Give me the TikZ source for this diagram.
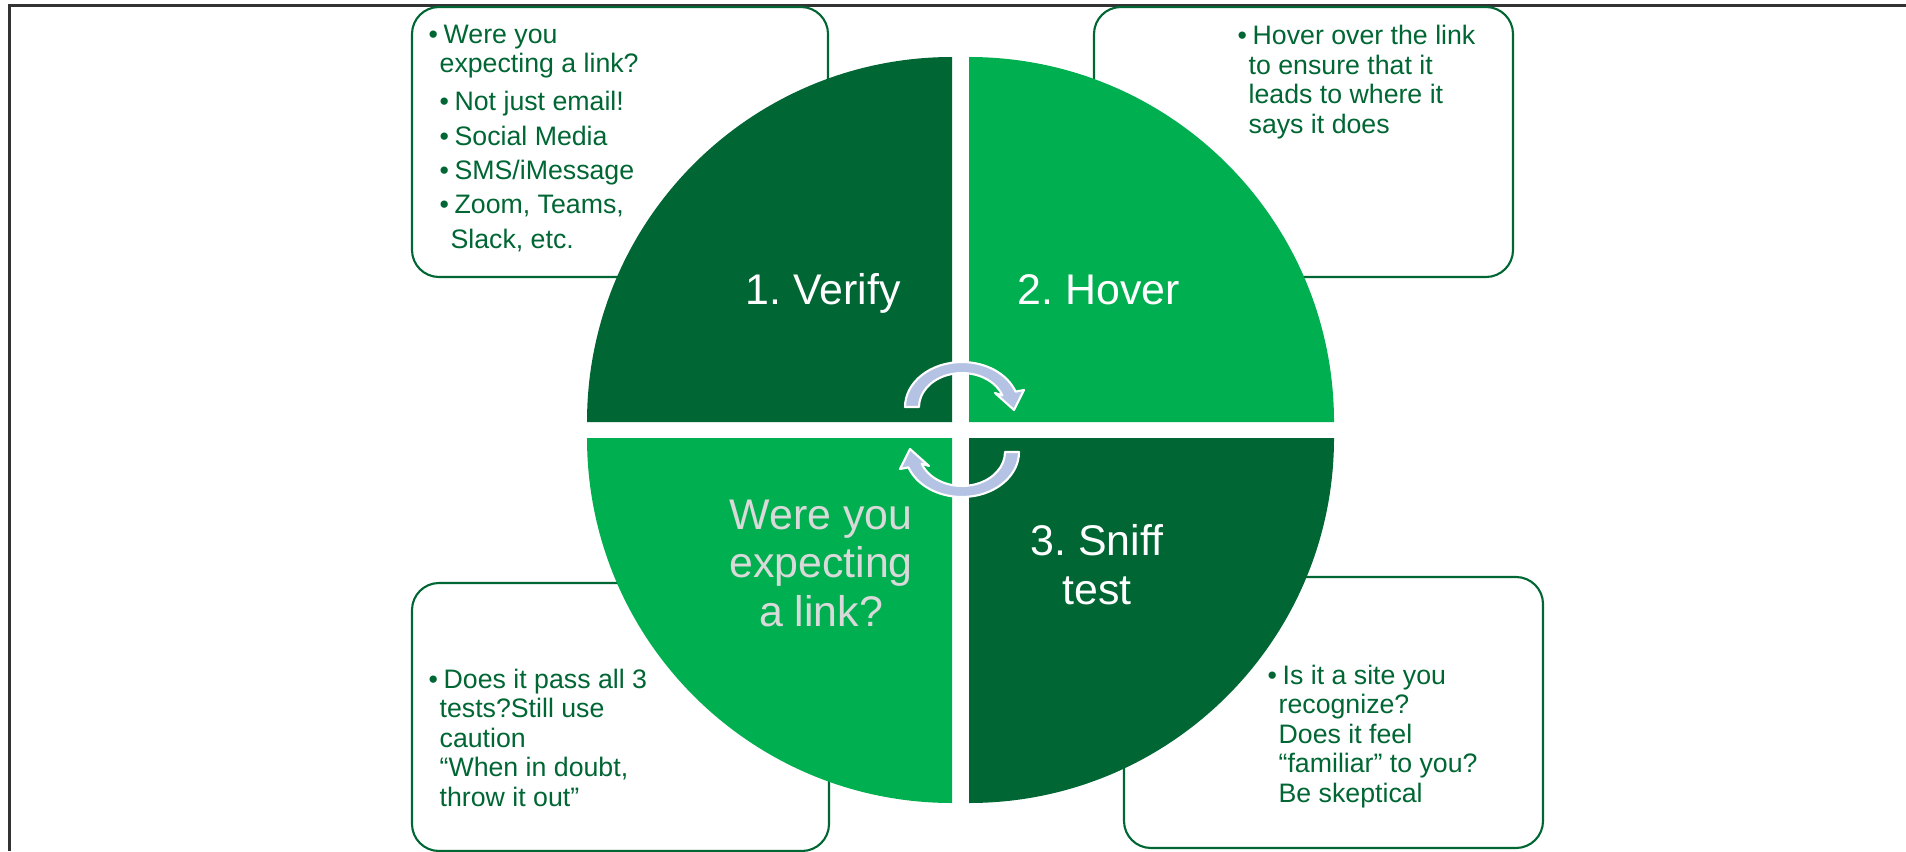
\documentclass[tikz,border=0pt]{standalone}
\usepackage{fontspec}
\setmainfont{Liberation Sans}
\frenchspacing
\definecolor{darkgrn}{RGB}{0,102,51}
\definecolor{litegrn}{RGB}{0,176,80}
\definecolor{cyclblue}{RGB}{180,194,228}
\definecolor{framegray}{RGB}{51,51,51}
\definecolor{palegray}{RGB}{217,217,217}
\newcommand{\bul}{\makebox[0.56em][l]{•}}
\newcommand{\ind}{\hspace*{0.41em}}

\begin{document}
\begin{tikzpicture}[
        infobox/.style={draw=darkgrn,fill=white,line width=0.6pt,rounded corners=0.27cm},
        boxtext/.style={font=\fontsize{7.6}{8.4}\selectfont,text=darkgrn,align=left,anchor=north west,inner sep=0pt},
        quadlabel/.style={font=\fontsize{12.2}{13.8}\selectfont,text=white,align=center,inner sep=0pt},
        cycarrow/.style={fill=cyclblue,draw=white,line width=0.6pt,line join=round}
    ]
        \useasboundingbox (0,0) rectangle (19.06,8.51);

        % 边框:只有上边和左边
        \draw[framegray,line width=0.6pt] (0.095,0) -- (0.095,8.455) -- (19.06,8.455);

        % 四个说明框
        \draw[infobox] (4.12,5.74) rectangle (8.28,8.44);
        \draw[infobox] (10.94,5.74) rectangle (15.13,8.44);
        \draw[infobox] (4.12,0.00) rectangle (8.29,2.68);
        \draw[infobox] (11.24,0.03) rectangle (15.43,2.74);

        \node[boxtext] (verifytxt) at (4.28,8.27) {%
            \bul Were you\\
            \ind expecting a link?\\[2.4pt]
            \ind\bul Not just email!\\[1.4pt]
            \ind\bul Social Media\\[1.4pt]
            \ind\bul SMS/iMessage\\[1.4pt]
            \ind\bul Zoom, Teams,\\[1.4pt]
            \hspace*{0.82em}Slack, etc.};
        \node[boxtext] (hovertxt) at (12.37,8.265) {%
            \bul Hover over the link\\
            \ind to ensure that it\\
            \ind leads to where it\\
            \ind says it does};
        \node[boxtext] (passtxt) at (4.28,1.83) {%
            \bul Does it pass all 3\\
            \ind tests?Still use\\
            \ind caution\\
            \ind “When in doubt,\\
            \ind throw it out”};
        \node[boxtext] (snifftxt) at (12.67,1.87) {%
            \bul Is it a site you\\
            \ind recognize?\\
            \ind Does it feel\\
            \ind “familiar” to you?\\
            \ind Be skeptical};

        % 圆的四个象限
        \fill[darkgrn] (9.52,4.29) -- ++(-3.65,0) arc[start angle=180,end angle=90,radius=3.65] -- cycle;
        \fill[litegrn] (9.69,4.29) -- ++(0,3.65) arc[start angle=90,end angle=0,radius=3.65] -- cycle;
        \fill[litegrn] (9.52,4.13) -- ++(0,-3.65) arc[start angle=270,end angle=180,radius=3.65] -- cycle;
        \fill[darkgrn] (9.69,4.13) -- ++(3.65,0) arc[start angle=0,end angle=-90,radius=3.65] -- cycle;

        % 象限标题
        \node[quadlabel,anchor=base] (verify) at (8.23,5.47) {1. Verify};
        \node[quadlabel,anchor=base] (hover) at (10.99,5.47) {2. Hover};
        \node[quadlabel,anchor=north,text=palegray] (expect) at (8.21,3.52) {Were you\\expecting\\a link?};
        \node[quadlabel,anchor=north] (sniff) at (10.97,3.27) {3. Sniff\\test};

        % 中间的循环箭头
        \foreach \rot in {0,180} {
            \begin{scope}[rotate around={\rot:(9.62,4.215)}]
                \filldraw[cycarrow] (9.05,4.44) arc[start angle=180,end angle=20,x radius=0.57,y radius=0.45]
                    -- (10.24,4.61) -- (10.14,4.41) -- (9.95,4.58) -- (10.024,4.556)
                    arc[start angle=20,end angle=180,x radius=0.43,y radius=0.34] -- cycle;
            \end{scope}
        }
    \end{tikzpicture}
\end{document}
